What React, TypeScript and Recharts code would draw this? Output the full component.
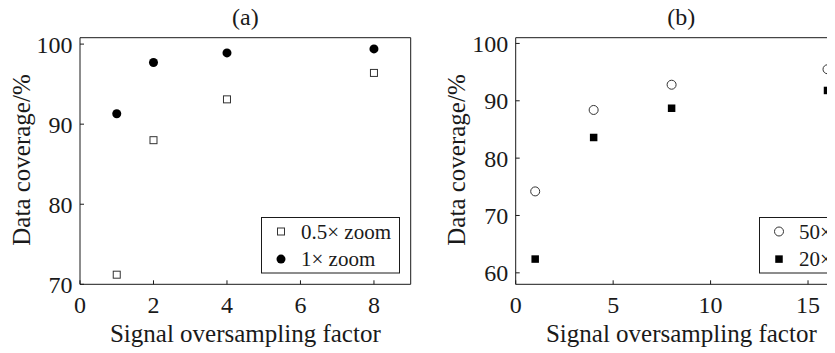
import React from 'react';
import { ScatterChart, Scatter, XAxis, YAxis, Legend, Label } from 'recharts';

// panel (a): zoom factor comparison
const xA = [1, 2, 4, 8];
const zoomHalf = [71.2, 88.0, 93.1, 96.4];
const zoomOne = [91.3, 97.7, 98.9, 99.4];
const xTicksA = [0, 2, 4, 6, 8];
const yTicksA = [70, 80, 90, 100];
const seriesNamesA = ['0.5× zoom', '1× zoom'];

// panel (b): objective comparison (legend text runs off the right edge in the source)
const xB = [1, 4, 8, 16];
const obj50 = [74.2, 88.4, 92.8, 95.5];
const obj20 = [62.4, 83.6, 88.7, 91.8];
const xTicksB = [0, 5, 10, 15];
const yTicksB = [60, 70, 80, 90, 100];
const seriesNamesB = ['50×', '20×'];

const FONT = '"Liberation Serif", "Times New Roman", serif';
const INK = '#1a1a1a';

const toPoints = (xs: number[], ys: number[]) => xs.map((x, i) => ({ x, y: ys[i] }));

type Mk = 'openSquare' | 'dot' | 'openCircle' | 'square';

function marker(kind: Mk, cx: number, cy: number) {
  switch (kind) {
    case 'openSquare':
      return <rect x={cx - 3.5} y={cy - 3.5} width={7} height={7} fill="#fff" stroke="#333" strokeWidth={1} />;
    case 'dot':
      return <circle cx={cx} cy={cy} r={4.5} fill="#000" />;
    case 'openCircle':
      return <circle cx={cx} cy={cy} r={4.5} fill="#fff" stroke="#333" strokeWidth={1} />;
    default:
      return <rect x={cx - 3.75} y={cy - 3.75} width={7.5} height={7.5} fill="#000" />;
  }
}

const shapeOf = (kind: Mk) => (p: any) => marker(kind, p.cx, p.cy);

type Series = { name: string; data: { x: number; y: number }[]; kind: Mk };

function legendContent(series: Series[], width: number) {
  return (props: any) => {
    const items = props.payload || [];
    const ordered = series
      .map((s) => items.find((e: any) => e.value === s.name))
      .filter(Boolean);
    return (
      <svg width={width} height={57} style={{ display: 'block', overflow: 'visible' }}>
        <rect x={0.5} y={0.5} width={width - 1} height={55.5} fill="#fff" stroke={INK} />
        {ordered.map((e: any, i: number) => (
          <g key={e.value}>
            {marker(series[i].kind, 20, 14.5 + i * 27.6)}
            <text x={40} y={14.5 + i * 27.6 + 7} fontSize={21} fontFamily={FONT} fill={INK}>
              {e.value}
            </text>
          </g>
        ))}
      </svg>
    );
  };
}

const yLabel = (props: any) => {
  const vb = props.viewBox;
  const x = vb.x + vb.width - 50.5;
  const y = vb.y + vb.height / 2 - 1;
  return (
    <text x={x} y={y} transform={`rotate(-90 ${x} ${y})`} textAnchor="middle" fontSize={25} fontFamily={FONT} fill={INK}>
      Data coverage/%
    </text>
  );
};

const xLabel = (props: any) => {
  const vb = props.viewBox;
  return (
    <text x={vb.x + vb.width / 2} y={vb.y + 58} textAnchor="middle" fontSize={25} fontFamily={FONT} fill={INK}>
      Signal oversampling factor
    </text>
  );
};

const titleLabel = (text: string) => (props: any) => {
  const vb = props.viewBox;
  return (
    <text x={vb.x + vb.width / 2} y={24.5} textAnchor="middle" fontSize={24} fontFamily={FONT} fill={INK}>
      {text}
    </text>
  );
};

const tickStyle = { fill: INK, fontSize: 24, fontFamily: FONT };
const lineStyle = { stroke: INK, strokeWidth: 1 };

interface PanelProps {
  width: number;
  yAxisWidth: number;
  rightMargin: number;
  xDomain: [number, number];
  yDomain: [number, number];
  xTicks: number[];
  yTicks: number[];
  title: string;
  series: Series[];
  legendLeft: number;
  legendWidth: number;
}

function Panel(p: PanelProps) {
  return (
    <ScatterChart width={p.width} height={353} margin={{ top: 36.7, right: p.rightMargin - 1, bottom: 67.7, left: 0 }}>
      <XAxis
        xAxisId={0}
        type="number"
        dataKey="x"
        domain={p.xDomain}
        ticks={p.xTicks}
        allowDataOverflow
        height={1}
        tick={tickStyle}
        tickSize={-4}
        tickMargin={16}
        axisLine={lineStyle}
        tickLine={lineStyle}
      >
        <Label content={xLabel} />
      </XAxis>
      <XAxis
        xAxisId="top"
        orientation="top"
        type="number"
        dataKey="x"
        domain={p.xDomain}
        ticks={p.xTicks}
        allowDataOverflow
        height={1}
        tick={false}
        tickSize={-4}
        axisLine={lineStyle}
        tickLine={lineStyle}
      >
        <Label content={titleLabel(p.title)} />
      </XAxis>
      <YAxis
        yAxisId={0}
        type="number"
        dataKey="y"
        domain={p.yDomain}
        ticks={p.yTicks}
        allowDataOverflow
        width={p.yAxisWidth}
        tick={tickStyle}
        tickSize={-4}
        tickMargin={11.5}
        axisLine={lineStyle}
        tickLine={lineStyle}
      >
        <Label content={yLabel} />
      </YAxis>
      <YAxis
        yAxisId="right"
        orientation="right"
        type="number"
        dataKey="y"
        domain={p.yDomain}
        ticks={p.yTicks}
        allowDataOverflow
        width={1}
        tick={false}
        tickSize={-4}
        axisLine={lineStyle}
        tickLine={lineStyle}
      />
      {p.series.map((s) => (
        <Scatter
          key={s.name}
          name={s.name}
          data={s.data}
          fill="#000"
          shape={shapeOf(s.kind)}
          isAnimationActive={false}
        />
      ))}
      <Legend
        layout="vertical"
        align="center"
        verticalAlign="middle"
        content={legendContent(p.series, p.legendWidth)}
        wrapperStyle={{ position: 'absolute', left: p.legendLeft, top: 217, width: p.legendWidth, height: 57 }}
      />
    </ScatterChart>
  );
}

export default function App() {
  return (
    <div
      style={{
        position: 'relative',
        width: 835,
        height: 353,
        margin: '-8px 0 0 -8px',
        overflow: 'hidden',
        background: '#fff',
        fontFamily: FONT,
      }}
    >
      <div style={{ position: 'absolute', left: 0, top: 0 }}>
        <Panel
          width={420}
          yAxisWidth={80}
          rightMargin={9.3}
          xDomain={[0, 9]}
          yDomain={[70, 100.8]}
          xTicks={xTicksA}
          yTicks={yTicksA}
          title="(a)"
          series={[
            { name: seriesNamesA[0], data: toPoints(xA, zoomHalf), kind: 'openSquare' },
            { name: seriesNamesA[1], data: toPoints(xA, zoomOne), kind: 'dot' },
          ]}
          legendLeft={261}
          legendWidth={139}
        />
      </div>
      <div style={{ position: 'absolute', left: 415, top: 0 }}>
        <Panel
          width={440}
          yAxisWidth={100.7}
          rightMargin={8}
          xDomain={[0, 17]}
          yDomain={[58, 101]}
          xTicks={xTicksB}
          yTicks={yTicksB}
          title="(b)"
          series={[
            { name: seriesNamesB[0], data: toPoints(xB, obj50), kind: 'openCircle' },
            { name: seriesNamesB[1], data: toPoints(xB, obj20), kind: 'square' },
          ]}
          legendLeft={344.3}
          legendWidth={139}
        />
      </div>
    </div>
  );
}
